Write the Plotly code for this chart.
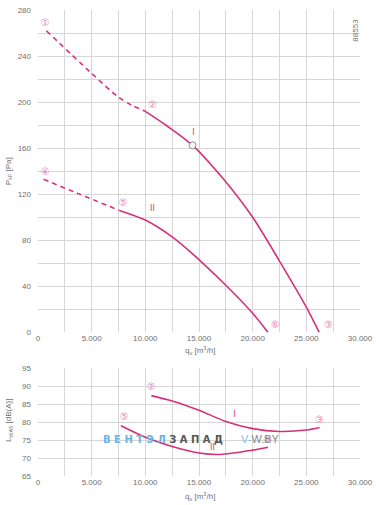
import plotly.graph_objects as go

# ---- data ----
x_ticks = [0, 5000, 10000, 15000, 20000, 25000, 30000]
x_ticktext = ["0", "5.000", "10.000", "15.000", "20.000", "25.000", "30.000"]
x_minor = [2500, 7500, 12500, 17500, 22500, 27500]
p_ticks = [0, 40, 80, 120, 160, 200, 240, 280]
p_minor = [20, 60, 100, 140, 180, 220, 260]
l_ticks = [65, 70, 75, 80, 85, 90, 95]

# pressure curve I
p1_dash_q = [775, 4880, 7400, 8700, 10000]
p1_dash_p = [262, 226, 205, 197.5, 192]
p1_q = [10000, 12000, 14400, 17300, 20000, 22500, 25000, 26200]
p1_p = [192, 179.5, 162.5, 133, 100, 62, 22, 0]
# pressure curve II
p2_dash_q = [520, 3630, 7580]
p2_dash_p = [133, 121, 106]
p2_q = [7580, 10000, 12500, 14190, 17500, 20000, 21430]
p2_p = [106, 97.6, 83, 70, 41, 16.7, 0]

# operating point
op_q = [14400]
op_p = [162.5]

# point labels (top)
top_lab_q = [680, 10660, 27060, 680, 7940, 22130]
top_lab_p = [268.5, 197, 6, 139, 112, 6]
top_lab_t = ["①", "②", "③", "④", "⑤", "⑥"]
top_curve_q = [14480, 10660]
top_curve_p = [173, 107]
curve_names = ["I", "II"]

# sound power curves
l1_q = [10560, 12500, 15000, 17500, 20000, 22500, 25000, 26240]
l1_l = [87.4, 85.9, 83.3, 80.2, 78.2, 77.4, 77.8, 78.5]
l2_q = [7730, 10000, 12500, 15000, 17000, 20000, 21430]
l2_l = [79, 75.8, 73.2, 71.4, 71.0, 72.2, 73]

bot_lab_q = [10560, 26220, 8040, 21370]
bot_lab_l = [89.8, 80.5, 81.2, 74.8]
bot_lab_t = ["②", "③", "⑤", "⑥"]
bot_curve_q = [18300, 16250]
bot_curve_l = [82, 72.8]

# ---- styles ----
LINE = "#d6307a"
LAB = "#e585b4"
GRID = "#d6d6d6"
TICK = "#707070"
FONT = "Liberation Sans, Arial, sans-serif"

fig = go.Figure()

def add_line(x, y, xa, ya, dash="solid"):
    fig.add_trace(go.Scatter(x=x, y=y, mode="lines", xaxis=xa, yaxis=ya,
                             line=dict(color=LINE, width=1.6, dash=dash, shape="spline",
                                       smoothing=0.8),
                             hoverinfo="skip", showlegend=False))

add_line(p1_dash_q, p1_dash_p, "x", "y", dash="5px,4px")
add_line(p1_q, p1_p, "x", "y")
add_line(p2_dash_q, p2_dash_p, "x", "y", dash="5px,4px")
add_line(p2_q, p2_p, "x", "y")
add_line(l1_q, l1_l, "x2", "y2")
add_line(l2_q, l2_l, "x2", "y2")

fig.add_trace(go.Scatter(x=op_q, y=op_p, mode="markers", xaxis="x", yaxis="y",
                         marker=dict(size=7, color="rgba(255,255,255,0.9)",
                                     line=dict(color="#888", width=1)),
                         showlegend=False, hoverinfo="skip"))

def add_text(x, y, t, xa, ya, size=10, color=LAB):
    fig.add_trace(go.Scatter(x=x, y=y, text=t, mode="text", xaxis=xa, yaxis=ya,
                             textfont=dict(size=size, color=color, family="DejaVu Sans"),
                             showlegend=False, hoverinfo="skip"))

add_text(top_lab_q, top_lab_p, top_lab_t, "x", "y")
add_text(top_curve_q, top_curve_p, curve_names, "x", "y", size=8, color=LINE)
add_text(bot_lab_q, bot_lab_l, bot_lab_t, "x2", "y2")
add_text(bot_curve_q, bot_curve_l, curve_names, "x2", "y2", size=8, color=LINE)

xaxis_common = dict(range=[0, 30000], tickvals=x_ticks, ticktext=x_ticktext,
                    showgrid=True, gridcolor=GRID, gridwidth=1, zeroline=False,
                    showline=False, ticks="", automargin=False,
                    tickfont=dict(size=8, color=TICK, family=FONT),
                    minor=dict(tickvals=x_minor, showgrid=True, gridcolor=GRID, gridwidth=1),
                    fixedrange=True)

fig.update_layout(
    width=379, height=505,
    margin=dict(l=38, r=19, t=10, b=29),
    paper_bgcolor="white", plot_bgcolor="white",
    font=dict(family=FONT),
    xaxis=dict(anchor="y", **xaxis_common),
    yaxis=dict(domain=[0.308, 1.0], anchor="x", range=[0, 280], tickvals=p_ticks,
               showgrid=True, gridcolor=GRID, zeroline=False, ticks="", automargin=False,
               ticklabelstandoff=6,
               tickfont=dict(size=8, color=TICK, family=FONT),
               minor=dict(tickvals=p_minor, showgrid=True, gridcolor=GRID, gridwidth=1)),
    xaxis2=dict(anchor="y2", **xaxis_common),
    yaxis2=dict(domain=[0.0, 0.231], anchor="x2", range=[65, 95], tickvals=l_ticks,
                showgrid=True, gridcolor=GRID, zeroline=False, ticks="", automargin=False,
                ticklabelstandoff=6,
                tickfont=dict(size=8, color=TICK, family=FONT)),
)

title_font = dict(size=8, color=TICK, family=FONT)
fig.add_annotation(text="P<sub>sF</sub> [Pa]", xref="paper", yref="paper", x=-0.090, y=0.654,
                   xanchor="center", yanchor="middle", textangle=-90, showarrow=False,
                   font=title_font)
fig.add_annotation(text="L<sub>WA5</sub> [dB(A)]", xref="paper", yref="paper", x=-0.090, y=0.12,
                   xanchor="center", yanchor="middle", textangle=-90, showarrow=False,
                   font=title_font)
fig.add_annotation(text="q<sub>v</sub> [m<sup>3</sup>/h]", xref="paper", yref="paper",
                   x=0.503, y=0.27, xanchor="center", yanchor="middle", showarrow=False,
                   font=title_font)
fig.add_annotation(text="q<sub>v</sub> [m<sup>3</sup>/h]", xref="paper", yref="paper",
                   x=0.503, y=-0.045, xanchor="center", yanchor="middle", showarrow=False,
                   font=title_font)

fig.add_annotation(text="88553", xref="paper", yref="paper", x=0.985, y=0.985,
                   xanchor="center", yanchor="top", textangle=-90, showarrow=False,
                   font=dict(size=8, color="#777", family=FONT))

fig.add_annotation(
    text="<span style='color:#6ab4ea'>В Е Н Т Э Л </span><span style='color:#555555'>З А П А Д</span>",
    xref="x2", yref="y2", x=5900, y=75.3, xanchor="left", yanchor="middle", showarrow=False,
    font=dict(size=10, family="DejaVu Sans", weight="bold"))
fig.add_annotation(
    text="<span style='color:#7ec0f0'>V-</span><span style='color:#888888'>W.BY</span>",
    xref="x2", yref="y2", x=18700, y=75.3, xanchor="left", yanchor="middle", showarrow=False,
    font=dict(size=11, family=FONT))

# remove the browser's default 8px body margin so the figure sits at the page corner
fig.write_html("out.html", config={"displayModeBar": False},
               post_script="document.body.style.margin='0px';")
